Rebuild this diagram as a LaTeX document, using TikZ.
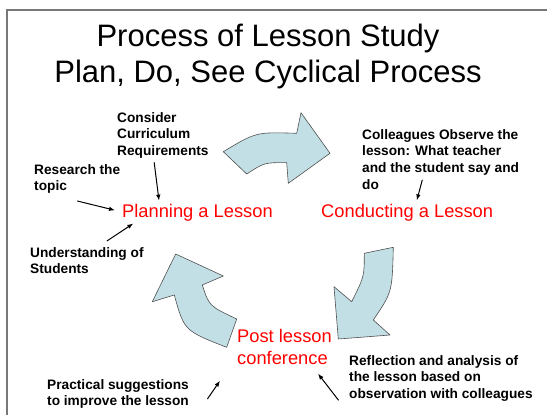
\documentclass[tikz,border=0pt]{standalone}
\usepackage{fontspec}
\setmainfont{Liberation Sans}
\usepackage{tikz}
\usetikzlibrary{arrows.meta}
\definecolor{cyclefill}{RGB}{194, 223, 229}
\definecolor{cycleedge}{RGB}{80, 80, 80}
\definecolor{framegray}{RGB}{120, 120, 120}

\begin{document}
\begin{tikzpicture}[x=1pt, y=-1pt,
  cyclearrow/.style={fill=cyclefill, draw=cycleedge, line width=0.6pt, line join=round},
  stage/.style={text=red, inner sep=0pt, align=left, font=\fontsize{18.3}{22.5}\selectfont},
  note/.style={inner sep=0pt, anchor=north west, align=left, font=\bfseries\fontsize{13.7}{16.8}\selectfont},
  pointer/.style={-{Latex[length=6pt,width=4.5pt]}, line width=1pt}]
\useasboundingbox (0,0) rectangle (547,415);
\draw[framegray, line width=2pt] (547,10) -- (6.7,10) -- (6.7,415);

\node[anchor=base, font=\fontsize{31}{37}\selectfont] (title1) at (268,46) {Process of Lesson Study};
\node[anchor=base, font=\fontsize{31}{37}\selectfont] (title2) at (268,82) {Plan, Do, See Cyclical Process};

% the three curved block arrows
\draw[cyclearrow] (223.3,151.7) -- (246.7,174) .. controls (264.4,162.5) .. (286.7,162.7) -- (288.3,183.3) -- (330,153.3) -- (301,112.7) -- (296.7,133.3) .. controls (256,132) .. (223.3,151.7) -- cycle;
\draw[cyclearrow] (364.3,253.3) -- (393.3,247.3) .. controls (392.2,292.1) .. (373.3,320) -- (390,335) -- (338.3,339) -- (334,286.7) -- (351.7,301.7) .. controls (364.3,276.4) .. (364.3,253.3) -- cycle;
\draw[cyclearrow] (236.7,319) -- (226.7,347.3) .. controls (184.2,330.7) .. (174.3,295) -- (152.3,301.7) -- (175.7,254) -- (223.3,276) -- (202.3,285) .. controls (209.1,306) .. (236.7,319) -- cycle;

\node[stage, anchor=base west] (planning) at (122,217) {Planning a Lesson};
\node[stage, anchor=base west] (conducting) at (321,217.5) {Conducting a Lesson};
\node[stage, anchor=north west] (post) at (237,328.6) {Post lesson\\conference};

\node[note] (consider) at (117,112) {Consider\\Curriculum\\Requirements};
\node[note] (research) at (34,164) {Research the\\topic};
\node[note] (understanding) at (30,247) {Understanding of\\Students};
\node[note] (colleagues) at (362,129) {Colleagues Observe the\\lesson: What teacher\\and the student say and\\do};
\node[note] (reflection) at (349,355) {Reflection and analysis of\\the lesson based on\\observation with colleagues};
\node[note] (practical) at (47,379) {Practical suggestions\\to improve the lesson};

\draw[pointer] ([shift={(-8.7pt,-3.5pt)}]consider.south) -- ([shift={(37pt,2.9pt)}]planning.north west);
\draw[pointer] ([yshift=-7pt]research.south) -- ([shift={(-7pt,2pt)}]planning.west);
\draw[pointer] ([shift={(20pt,6pt)}]understanding.north) -- ([shift={(11.3pt,-2.5pt)}]planning.south west);
\draw[pointer] ([shift={(-18.3pt,10pt)}]colleagues.south) -- ([shift={(9.7pt,3.7pt)}]conducting.north);
\draw[pointer] ([shift={(18.4pt,-5pt)}]practical.east) -- ([shift={(-17pt,-15.8pt)}]post.south west);
\draw[pointer] ([shift={(-10.4pt,1.5pt)}]reflection.south west) -- ([shift={(-14pt,-8.7pt)}]post.south east);
\end{tikzpicture}
\end{document}
